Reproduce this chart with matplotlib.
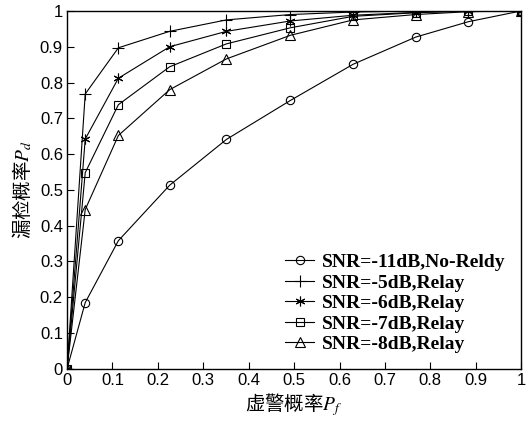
import matplotlib
matplotlib.use("Agg")
import matplotlib.pyplot as plt

plt.rcParams["mathtext.fontset"] = "stix"

# data
pf = [0, 0.04, 0.113, 0.226, 0.351, 0.492, 0.63, 0.768, 0.884, 1.0]

pd_norelay = [0, 0.185, 0.358, 0.513, 0.641, 0.75, 0.851, 0.927, 0.97, 1.0]
pd_5db = [0, 0.768, 0.897, 0.943, 0.975, 0.99, 0.997, 1.0, 1.0, 1.0]
pd_6db = [0, 0.642, 0.812, 0.9, 0.943, 0.972, 0.988, 0.996, 1.0, 1.0]
pd_7db = [0, 0.548, 0.738, 0.844, 0.908, 0.953, 0.985, 0.995, 1.0, 1.0]
pd_8db = [0, 0.445, 0.652, 0.78, 0.866, 0.932, 0.975, 0.99, 0.998, 1.0]

labels = ["SNR=-11dB,No-Reldy", "SNR=-5dB,Relay", "SNR=-6dB,Relay",
          "SNR=-7dB,Relay", "SNR=-8dB,Relay"]
markers = ["o", "+", (6, 2, 0), "s", "^"]
sizes = [6, 9, 7, 6, 7]

fig = plt.figure(figsize=(5.28, 4.21), dpi=100)
ax = fig.add_axes([0.127, 0.124, 0.86, 0.85])

for ys, m, ms, lab in zip([pd_norelay, pd_5db, pd_6db, pd_7db, pd_8db], markers, sizes, labels):
    ax.plot(pf, ys, color="black", linewidth=0.8, marker=m, markersize=ms,
            markerfacecolor="none", markeredgecolor="black", markeredgewidth=0.8,
            label=lab)

ticks = [0, 0.1, 0.2, 0.3, 0.4, 0.5, 0.6, 0.7, 0.8, 0.9, 1]
tick_text = ["0", "0.1", "0.2", "0.3", "0.4", "0.5", "0.6", "0.7", "0.8", "0.9", "1"]
ax.set_xlim(0, 1)
ax.set_ylim(0, 1)
ax.set_xticks(ticks)
ax.set_yticks(ticks)
ax.set_xticklabels(tick_text)
ax.set_yticklabels(tick_text)
ax.tick_params(direction="in", length=5, width=0.8, labelsize=12, pad=3)
for t in ax.get_xticklabels() + ax.get_yticklabels():
    t.set_family("Liberation Sans")
for s in ax.spines.values():
    s.set_linewidth(1.0)

ax.set_xlabel(r"虚警概率$P_f$", family=["Noto Sans CJK SC", "DejaVu Sans"],
              fontsize=14, labelpad=2)
ax.set_ylabel(r"漏检概率$P_d$", family=["Noto Sans CJK SC", "DejaVu Sans"],
              fontsize=14, labelpad=4)

leg = ax.legend(loc="lower right", frameon=False, handlelength=1.5,
                handletextpad=0.4, labelspacing=0.15, borderaxespad=0.4,
                prop={"family": "Liberation Serif", "weight": "bold", "size": 14})

fig.savefig("out.png", dpi=100)
